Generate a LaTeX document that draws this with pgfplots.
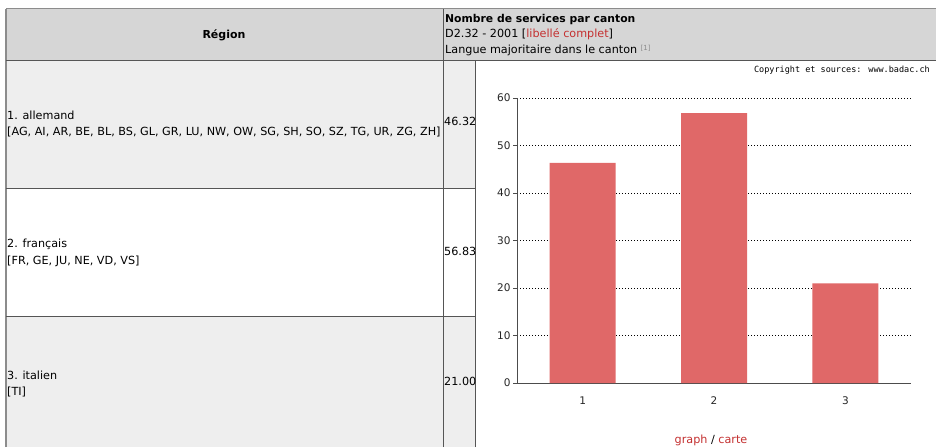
\documentclass[border=0pt]{standalone}
\usepackage{pgfplots}
\pgfplotsset{compat=1.18}
\usepackage{fontspec}
\setmainfont{DejaVu Sans}
\newfontfamily\monof{DejaVu Sans Mono}
\definecolor{hdr}{RGB}{214,214,214}
\definecolor{rowg}{RGB}{238,238,238}
\definecolor{bord}{RGB}{85,85,85}
\definecolor{barred}{RGB}{224,104,104}
\definecolor{linkred}{RGB}{196,48,48}

\begin{document}
\begin{tikzpicture}[x=1pt,y=1pt,font=\fontsize{11.2}{13}\selectfont]
\useasboundingbox (0,0) rectangle (936,447);
\clip (0,0) rectangle (936,447);
% cell backgrounds
\fill[white] (0,0) rectangle (936,447);
\fill[hdr] (6,386) rectangle (936,438);
\fill[rowg] (6,258) rectangle (475,386);
\fill[white] (6,130) rectangle (475,258);
\fill[rowg] (6,0) rectangle (475,130);
% borders
\draw[black!45, line width=1.5pt] (6,0) -- (6,438);
\draw[black!45, line width=1pt] (6,438) -- (936,438);
\draw[bord, line width=1pt] (6,386) -- (936,386);
\draw[bord, line width=1pt] (6,258) -- (475,258);
\draw[bord, line width=1pt] (6,130) -- (475,130);
\draw[bord, line width=1pt] (443,0) -- (443,438);
\draw[bord, line width=1pt] (475,0) -- (475,386);
% header
\node[font=\fontsize{11}{12}\bfseries] at (224,412) {Région};
\node[anchor=mid west, inner sep=0pt, font=\fontsize{10.8}{12}\bfseries] at (445,427) {Nombre de services par canton};
\node[anchor=mid west, inner sep=0pt] at (445,412) {D2.32 - 2001 [\textcolor{linkred}{libellé complet}]};
\node[anchor=mid west, inner sep=0pt] at (445,396) {Langue majoritaire dans le canton \raisebox{3pt}{\textcolor{black!45}{\fontsize{7}{8}\selectfont[1]}}};
% rows
\node[anchor=mid west, inner sep=0pt] at (7,330) {1. allemand};
\node[anchor=mid west, inner sep=0pt] at (7,314) {[AG, AI, AR, BE, BL, BS, GL, GR, LU, NW, OW, SG, SH, SO, SZ, TG, UR, ZG, ZH]};
\node[anchor=mid west, inner sep=0pt] at (444,324) {46.32};
\node[anchor=mid west, inner sep=0pt] at (7,202) {2. français};
\node[anchor=mid west, inner sep=0pt] at (7,185) {[FR, GE, JU, NE, VD, VS]};
\node[anchor=mid west, inner sep=0pt] at (444,194) {56.83};
\node[anchor=mid west, inner sep=0pt] at (7,70) {3. italien};
\node[anchor=mid west, inner sep=0pt] at (7,54) {[TI]};
\node[anchor=mid west, inner sep=0pt] at (444,64) {21.00};
% chart notes
\node[anchor=mid east, inner sep=0pt, font=\monof\fontsize{8.5}{9}\selectfont] at (930,377) {Copyright et sources: www.badac.ch};
\node[anchor=base, inner sep=0pt] at (711,3.5) {\textcolor{linkred}{graph} / \textcolor{linkred}{carte}};

\begin{axis}[
at={(517pt,64pt)}, anchor=south west,
width=394pt, height=285pt, scale only axis,
xmin=0.5, xmax=3.5, ymin=0, ymax=60,
axis x line=bottom, axis y line=left,
axis line style={-, draw=black!70, line width=0.8pt},
xtick={1,2,3}, ytick={0,10,...,60},
ymajorgrids, grid style={black, line width=0.6pt, dash pattern=on 1pt off 2pt},
tick align=outside, major tick length=4pt,
ytick style={black!70}, xtick style={draw=none},
tick label style={font=\fontsize{10.5}{11}\selectfont, text=black!85},
yticklabel style={xshift=1pt},
/pgf/number format/assume math mode=true,
xticklabel style={yshift=-6pt},
ybar, bar width=66pt, clip=false]
\addplot[fill=barred, draw=none] coordinates {(1,46.32) (2,56.83) (3,21.00)};
\end{axis}
\end{tikzpicture}
\end{document}
